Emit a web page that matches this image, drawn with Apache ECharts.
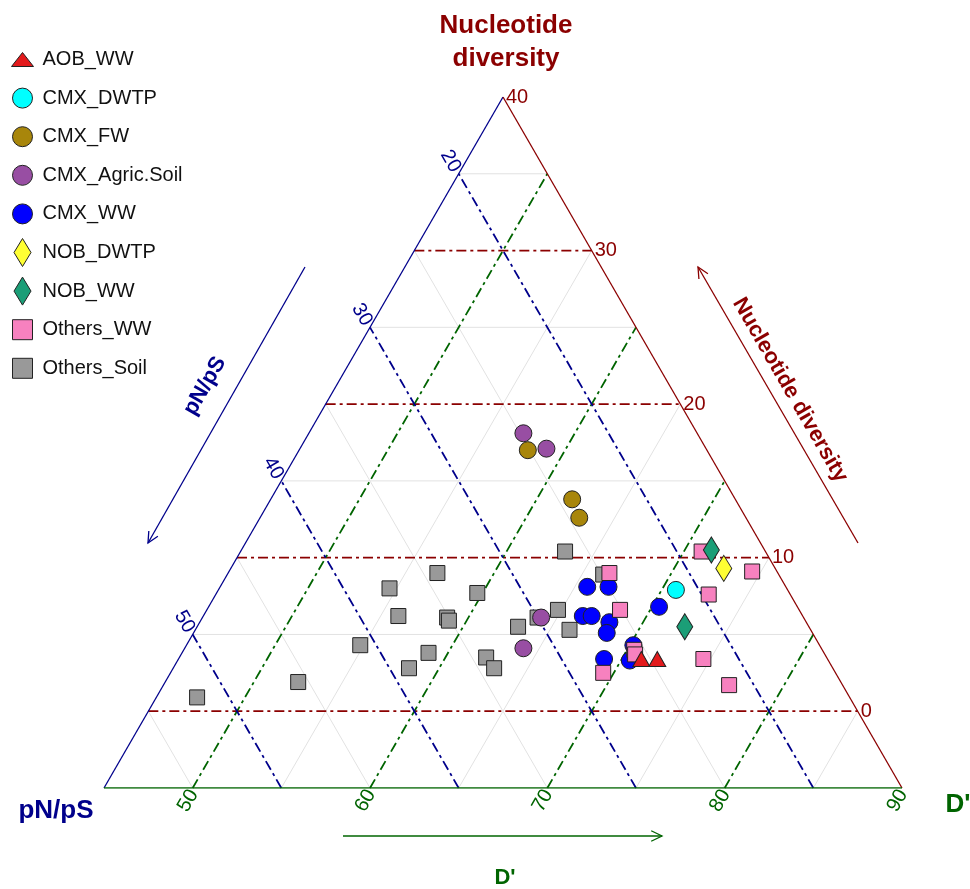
<!DOCTYPE html>
<html><head><meta charset="utf-8">
<script src="https://cdn.jsdelivr.net/npm/echarts@6/dist/echarts.min.js"></script>
<style>html,body{margin:0;padding:0;background:#fff;}#chart{width:970px;height:889px;}</style>
</head><body><div id="chart"></div>
<script>
// Ternary composition: D' + Nucleotide diversity + pN/pS = 100 (zoomed window)
const TOTAL = 100, DMIN = 45, NDMIN = -5, PMIN = 15;

const seriesNames = ['AOB_WW','CMX_DWTP','CMX_FW','CMX_Agric.Soil','CMX_WW','NOB_DWTP','NOB_WW','Others_WW','Others_Soil'];

// values per group: D' and Nucleotide diversity (pN/pS = 100 - D' - ND)
const aobWW_D   = [71.1, 72.0];
const aobWW_ND  = [3.4, 3.4];
const cmxDWTP_D  = [70.8];
const cmxDWTP_ND = [7.9];
const cmxFW_D  = [57.9, 62.0, 63.0];
const cmxFW_ND = [17.0, 13.8, 12.6];
const cmxAgric_D  = [57.1, 58.9, 64.1, 64.1];
const cmxAgric_ND = [18.1, 17.1, 6.1, 4.1];
const cmxWW_D  = [65.7, 66.9, 66.4, 66.9, 68.1, 68.3, 70.4, 70.2, 70.5, 69.0];
const cmxWW_ND = [8.1, 8.1, 6.2, 6.2, 5.8, 5.1, 6.8, 4.3, 3.3, 3.4];
const nobDWTP_D  = [72.8];
const nobDWTP_ND = [9.3];
const nobWW_D  = [71.5, 72.5];
const nobWW_ND = [10.5, 5.5];
const othersWW_D  = [66.5, 68.3, 70.4, 70.6, 69.4, 71.0, 74.5, 72.8, 74.6, 76.9];
const othersWW_ND = [9.0, 6.6, 4.0, 3.7, 2.5, 10.4, 9.1, 7.6, 3.4, 1.7];
const othersSoil_D  = [47.3, 52.5, 54.8, 54.6, 56.0, 58.3, 58.9, 56.8, 58.8, 59.0, 59.7, 62.3, 63.1, 63.1, 63.9, 64.8, 66.1, 63.3, 66.2];
const othersSoil_ND = [0.9, 1.9, 4.3, 8.0, 6.2, 2.8, 3.8, 9.0, 6.1, 5.9, 7.7, 3.5, 2.8, 5.5, 6.1, 6.6, 5.3, 10.4, 8.9];

// tick labels and grid lines
const ndTicks = [0, 10, 20, 30, 40];
const dTicks  = [50, 60, 70, 80, 90];
const pnTicks = [20, 30, 40, 50];
const ndMajor = [0, 10, 20, 30];
const dMajor  = [50, 60, 70, 80];
const pnMajor = [20, 30, 40, 50];
const ndMinor = [5, 15, 25, 35];
const dMinor  = [55, 65, 75, 85];
const pnMinor = [25, 35, 45, 55];

const RED = '#8B0000', BLUE = '#00008B', GREEN = '#006400';
const FONT = '"Liberation Sans", Arial, Helvetica, sans-serif';

// legend icons drawn in a 30x30 box (corner moveTo points fix the box)
const BOX = 'M0,0M30,30';
const ICONS = {
  circle: 'path://' + BOX + 'M5,15A10,10 0 1 1 25,15A10,10 0 1 1 5,15Z',
  rect: 'path://' + BOX + 'M5,5L25,5L25,25L5,25Z',
  triangle: 'path://' + BOX + 'M4,22L15,8L26,22Z',
  diamond: 'path://' + BOX + 'M15,1L23.5,15L15,29L6.5,15Z'
};

// ternary (D', ND) -> plane coordinates (x along bottom edge, y = ND)
function toXY(d, nd) { return [d + (nd - NDMIN) / 2, nd]; }

const chart = echarts.init(document.getElementById('chart'), null, {renderer: 'canvas'});

const series = [];
function seg(p1, p2, style, z) {
  series.push({type: 'line', data: [p1, p2], symbol: 'none', silent: true, lineStyle: style, z: z, animation: false});
}
function ndLine(v, style, z) { seg(toXY(DMIN, v), toXY(TOTAL - PMIN - v, v), style, z); }
function dLine(v, style, z) { seg(toXY(v, NDMIN), toXY(v, TOTAL - PMIN - v), style, z); }
function pnLine(v, style, z) { seg(toXY(TOTAL - v - NDMIN, NDMIN), toXY(DMIN, TOTAL - v - DMIN), style, z); }

const minorStyle = {color: '#e2e2e2', width: 1, type: 'solid'};
ndMinor.forEach(v => ndLine(v, minorStyle, 1));
dMinor.forEach(v => dLine(v, minorStyle, 1));
pnMinor.forEach(v => pnLine(v, minorStyle, 1));
const dashPat = [10, 4, 3, 4];
ndMajor.forEach(v => ndLine(v, {color: RED, width: 1.8, type: dashPat}, 2));
dMajor.forEach(v => dLine(v, {color: GREEN, width: 1.8, type: dashPat}, 2));
pnMajor.forEach(v => pnLine(v, {color: BLUE, width: 1.8, type: dashPat}, 2));

// triangle edges
const vTop = toXY(DMIN, TOTAL - PMIN - DMIN), vBL = toXY(DMIN, NDMIN), vBR = toXY(TOTAL - PMIN - NDMIN, NDMIN);
seg(vBL, vTop, {color: BLUE, width: 1.3}, 3);
seg(vTop, vBR, {color: RED, width: 1.3}, 3);
seg(vBL, vBR, {color: GREEN, width: 1.5}, 3);

function pts(D, ND) { return D.map((d, i) => toXY(d, ND[i]).concat([TOTAL - d - ND[i]])); }
const border = {borderColor: '#222', borderWidth: 1};
const groups = [
  {name: 'Others_Soil', D: othersSoil_D, ND: othersSoil_ND, symbol: 'rect', size: 15, color: '#999999', z: 5},
  {name: 'CMX_FW', D: cmxFW_D, ND: cmxFW_ND, symbol: 'circle', size: 17, color: '#A8860B', z: 6},
  {name: 'CMX_Agric.Soil', D: cmxAgric_D, ND: cmxAgric_ND, symbol: 'circle', size: 17, color: '#984EA3', z: 6},
  {name: 'CMX_WW', D: cmxWW_D, ND: cmxWW_ND, symbol: 'circle', size: 17, color: '#0000FF', z: 7},
  {name: 'Others_WW', D: othersWW_D, ND: othersWW_ND, symbol: 'rect', size: 15, color: '#F781BF', z: 8},
  {name: 'CMX_DWTP', D: cmxDWTP_D, ND: cmxDWTP_ND, symbol: 'circle', size: 17, color: '#00FFFF', z: 9},
  {name: 'NOB_DWTP', D: nobDWTP_D, ND: nobDWTP_ND, symbol: 'diamond', size: [16, 26], color: '#FFFF33', z: 9},
  {name: 'NOB_WW', D: nobWW_D, ND: nobWW_ND, symbol: 'diamond', size: [16, 26], color: '#1B9E77', z: 9},
  {name: 'AOB_WW', D: aobWW_D, ND: aobWW_ND, symbol: 'triangle', size: [17, 15], color: '#E31A1C', z: 10}
];
const iconOf = {};
groups.forEach(g => {
  iconOf[g.name] = ICONS[g.symbol];
  series.push({
    name: g.name, type: 'scatter', data: pts(g.D, g.ND), symbol: g.symbol, symbolSize: g.size,
    itemStyle: Object.assign({color: g.color, opacity: 1}, border), z: g.z, animation: false
  });
});

chart.setOption({
  animation: false,
  backgroundColor: '#fff',
  grid: {left: 104, top: 97, width: 798, height: 691},
  xAxis: {type: 'value', min: DMIN, max: TOTAL - PMIN - NDMIN, show: false},
  yAxis: {type: 'value', min: NDMIN, max: TOTAL - PMIN - DMIN, show: false},
  legend: {
    orient: 'vertical', left: 2, top: 39, itemWidth: 30, itemHeight: 30, itemGap: 7.6,
    symbolKeepAspect: true,
    data: seriesNames.map(n => ({name: n, icon: iconOf[n]})), selectedMode: false,
    itemStyle: {borderColor: '#222', borderWidth: 1},
    textStyle: {fontSize: 20, color: '#111', fontFamily: FONT}
  },
  series: series
});

function px(d, nd) { return chart.convertToPixel({gridIndex: 0}, toXY(d, nd)); }
function txt(x, y, text, color, size, bold, align, rot) {
  return {type: 'text', x: x, y: y, rotation: rot || 0, z: 20, silent: true,
    style: {text: text, fill: color, fontSize: size, fontWeight: bold ? 'bold' : 'normal', fontFamily: FONT,
      align: align, textAlign: align, verticalAlign: 'middle', textVerticalAlign: 'middle'}};
}
const gfx = [];
ndTicks.forEach(v => { const p = px(TOTAL - PMIN - v, v); gfx.push(txt(p[0] + 3, p[1], String(v), RED, 20, false, 'left')); });
dTicks.forEach(v => { const p = px(v, NDMIN); gfx.push(txt(p[0] + 1, p[1] + 3, String(v), GREEN, 20, false, 'right', Math.PI / 3)); });
pnTicks.forEach(v => { const p = px(DMIN, TOTAL - v - DMIN); gfx.push(txt(p[0] - 2.5, p[1] - 3, String(v), BLUE, 20, false, 'right', -Math.PI / 3)); });

// axis titles
gfx.push(txt(506, 26, 'Nucleotide', RED, 26, true, 'center'));
gfx.push(txt(506, 59, 'diversity', RED, 26, true, 'center'));
gfx.push(txt(56, 811, 'pN/pS', BLUE, 26, true, 'center'));
gfx.push(txt(958, 805, "D'", GREEN, 26, true, 'center'));

// direction arrows
function arrow(x1, y1, x2, y2, color) {
  const ang = Math.atan2(y2 - y1, x2 - x1), L = 12, a = 0.45;
  gfx.push({type: 'line', silent: true, z: 20, shape: {x1: x1, y1: y1, x2: x2, y2: y2}, style: {stroke: color, lineWidth: 1.3}});
  gfx.push({type: 'polyline', silent: true, z: 20, shape: {points: [
    [x2 - L * Math.cos(ang - a), y2 - L * Math.sin(ang - a)], [x2, y2],
    [x2 - L * Math.cos(ang + a), y2 - L * Math.sin(ang + a)]]}, style: {stroke: color, lineWidth: 1.3, fill: null}});
}
arrow(305, 267, 148, 543, BLUE);
arrow(858, 543, 698, 267, RED);
arrow(343, 836, 662, 836, GREEN);
gfx.push(txt(205, 386, 'pN/pS', BLUE, 22, true, 'center', Math.PI / 3));
gfx.push(txt(790, 390, 'Nucleotide diversity', RED, 22, true, 'center', -Math.PI / 3));
gfx.push(txt(505, 878, "D'", GREEN, 22, true, 'center'));

chart.setOption({graphic: gfx});
</script></body></html>
